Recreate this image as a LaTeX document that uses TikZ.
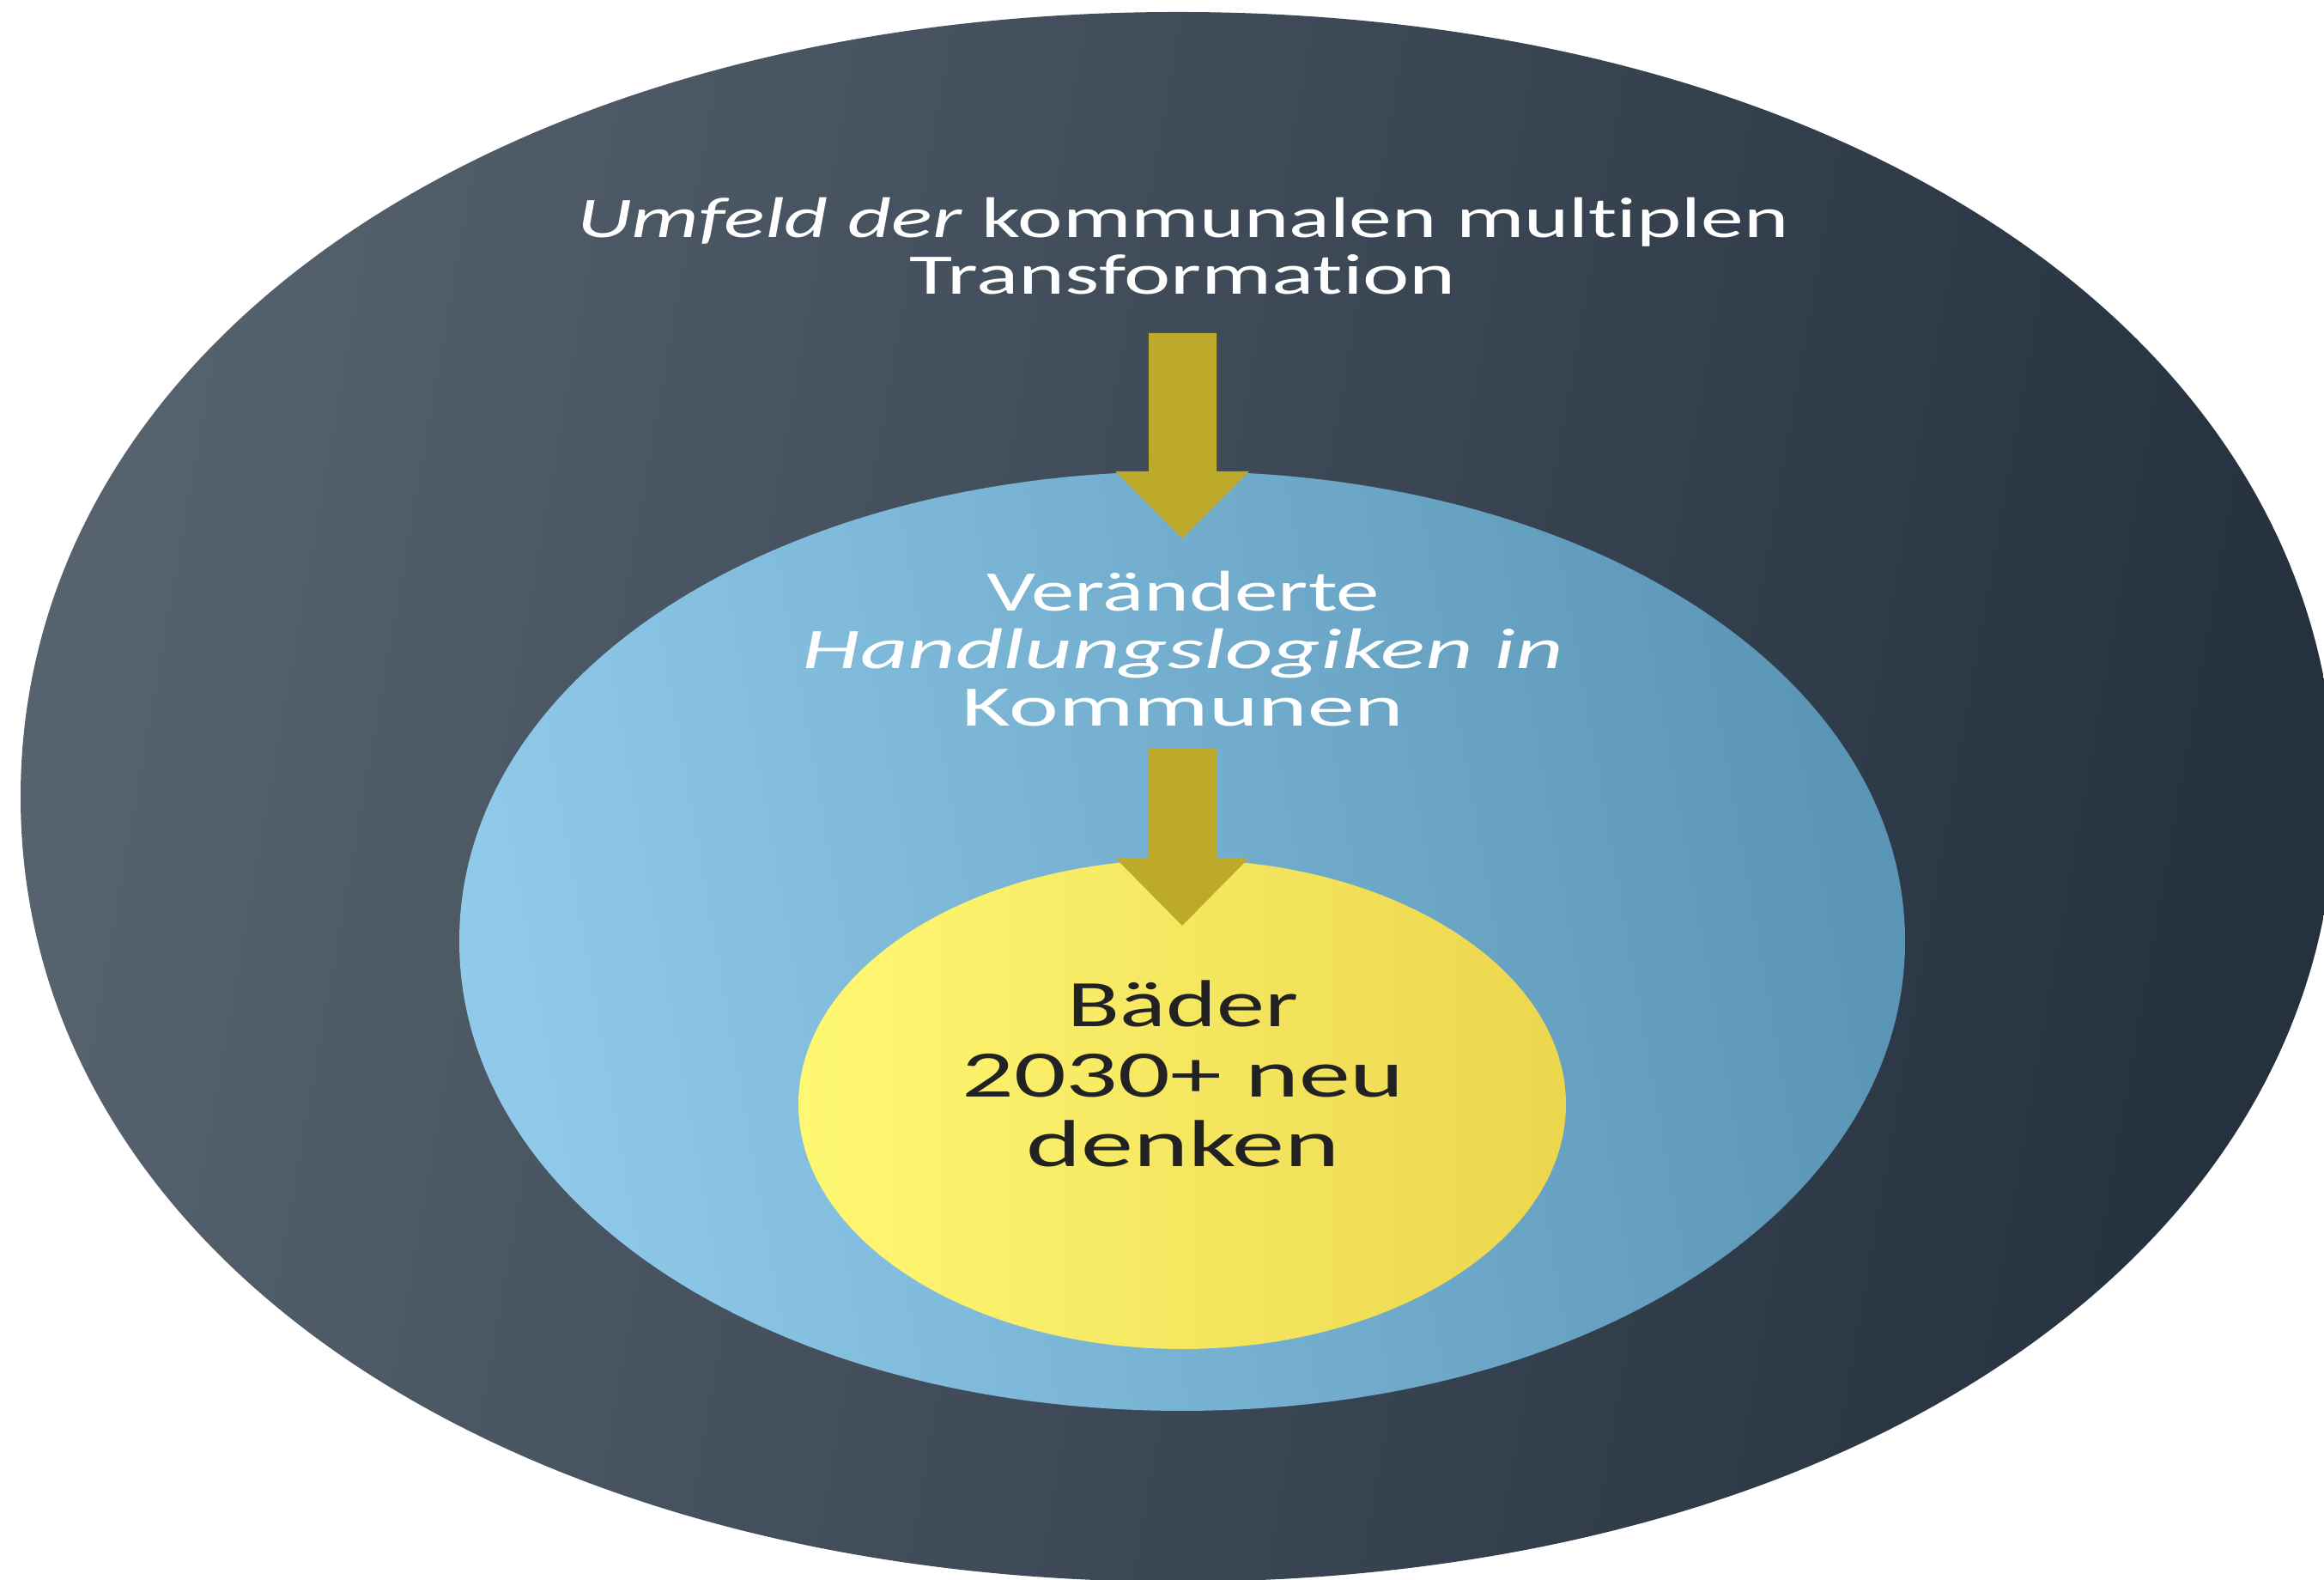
\documentclass[tikz,border=0pt]{standalone}
\usepackage{fontspec}
\setmainfont{Carlito}[Ligatures=NoCommon]
\definecolor{outerL}{HTML}{57626F}
\definecolor{outerR}{HTML}{263140}
\definecolor{midL}{HTML}{8FCAEA}
\definecolor{midR}{HTML}{5A95B5}
\definecolor{innL}{HTML}{FFF873}
\definecolor{innR}{HTML}{ECD64E}
\definecolor{arrowc}{HTML}{BEAA2A}
\definecolor{darktext}{HTML}{222222}
\tikzset{
  blockarrow/.style={fill=arrowc, draw=none},
  label/.style={inner sep=0pt, align=center}
}
\newcommand{\hs}[2]{\scalebox{#1}[1]{#2}}
% rounded oval: centre x, centre y, rx, ry, control factor
\newcommand{\ovalpath}[5]{({#1+#3},{#2}) .. controls ({#1+#3},{#2+#5*#4}) and ({#1+#5*#3},{#2+#4}) .. ({#1},{#2+#4})
 .. controls ({#1-#5*#3},{#2+#4}) and ({#1-#3},{#2+#5*#4}) .. ({#1-#3},{#2})
 .. controls ({#1-#3},{#2-#5*#4}) and ({#1-#5*#3},{#2-#4}) .. ({#1},{#2-#4})
 .. controls ({#1+#5*#3},{#2-#4}) and ({#1+#3},{#2-#5*#4}) .. cycle}
\begin{document}
\begin{tikzpicture}[x=1cm,y=1cm]
\useasboundingbox (0,0) rectangle (27.07,18.40);
\coordinate (outer) at (13.72,9.12);
\coordinate (middle) at (13.77,7.44);
\coordinate (inner) at (13.77,5.54);
\begin{scope}
\clip (0,0) rectangle (27.07,18.40);
\shade[left color=outerL, right color=outerR, shading angle=80] \ovalpath{13.72}{9.12}{13.48}{9.14}{0.58};
\end{scope}
\shade[left color=midL, right color=midR, shading angle=100] \ovalpath{13.77}{7.44}{8.42}{5.47}{0.565};
\fill[blockarrow] (13.38,14.52) -- (14.17,14.52) -- (14.17,12.91) -- (14.55,12.91) -- (13.77,12.13) -- (12.99,12.91) -- (13.38,12.91) -- cycle;
\shade[left color=innL, right color=innR] \ovalpath{13.77}{5.54}{4.47}{2.85}{0.5523};
\fill[blockarrow] (13.38,9.68) -- (14.17,9.68) -- (14.17,8.41) -- (14.55,8.41) -- (13.77,7.62) -- (12.99,8.41) -- (13.38,8.41) -- cycle;
\node[label] (t1) at (13.78,15.44) {\color{white}\fontsize{19}{18.8}\selectfont\begin{tabular}{@{}c@{}}\hs{1.49}{\textit{Umfeld der} kommunalen multiplen}\\\hs{1.54}{Transformation}\end{tabular}};
\node[label] (t2) at (13.78,10.75) {\color{white}\fontsize{19}{19}\selectfont\begin{tabular}{@{}c@{}}\hs{1.51}{Veränderte}\\\hs{1.62}{\textit{Handlungslogiken in}}\\\hs{1.64}{Kommunen}\end{tabular}};
\node[label] (t3) at (13.78,5.79) {\color{darktext}\fontsize{22}{23.2}\selectfont\begin{tabular}{@{}c@{}}\hs{1.45}{Bäder}\\\hs{1.55}{2030+ neu}\\\hs{1.58}{denken}\end{tabular}};
\end{tikzpicture}
\end{document}
